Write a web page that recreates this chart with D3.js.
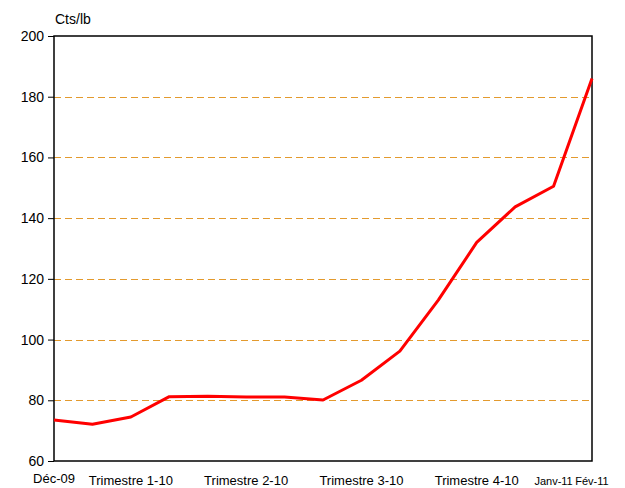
<!DOCTYPE html>
<html>
<head>
<meta charset="utf-8">
<script src="https://cdn.jsdelivr.net/npm/d3@7"></script>
<style>
  body { margin: 0; background: #fff; }
  text { font-family: "Liberation Sans", Arial, sans-serif; fill: #000; }
</style>
</head>
<body>
<script>
// monthly prices, Dec-09 .. Feb-11
var values = [73.5, 72.1, 74.5, 81.2, 81.3, 81.1, 81.1, 80.1, 86.6, 96.2, 113, 132, 143.7, 150.5, 186];
var yTicks = [60, 80, 100, 120, 140, 160, 180, 200];
var gridTicks = [80, 100, 120, 140, 160, 180];
// x labels: index into values, text, small font?
var xLabelIdx = [0, 2, 5, 8, 11, 13, 14];
var xLabelText = ["Déc-09", "Trimestre 1-10", "Trimestre 2-10", "Trimestre 3-10", "Trimestre 4-10", "Janv-11", "Fév-11"];
var xLabelSmall = [false, false, false, false, false, true, true];

var margin = {top: 36, right: 33, bottom: 27, left: 54},
    width = 625 - margin.left - margin.right,
    height = 488 - margin.top - margin.bottom;

var svg = d3.select("body").append("svg")
    .attr("width", 625)
    .attr("height", 488)
  .append("g")
    .attr("transform", "translate(" + margin.left + "," + margin.top + ")");

var x = d3.scaleLinear().domain([0, values.length - 1]).range([0, width]);
var y = d3.scaleLinear().domain([60, 200]).range([height, 0]);

// grid
svg.selectAll(".grid")
    .data(gridTicks)
  .enter().append("line")
    .attr("x1", 0).attr("x2", width)
    .attr("y1", function(d) { return Math.round(y(d)) + 0.5; })
    .attr("y2", function(d) { return Math.round(y(d)) + 0.5; })
    .attr("stroke", "#e39a2e")
    .attr("stroke-width", 1)
    .attr("stroke-dasharray", "7,4");

// y axis
var yAxis = svg.append("g")
    .call(d3.axisLeft(y).tickValues(yTicks).tickSize(6).tickPadding(4));
yAxis.select(".domain").remove();
yAxis.selectAll("line").attr("stroke", "#000");
yAxis.selectAll("text")
    .style("font-size", "14px")
    .style("font-family", "Liberation Sans, Arial, sans-serif");

// frame
svg.append("rect")
    .attr("x", 0).attr("y", 0)
    .attr("width", width).attr("height", height)
    .attr("fill", "none")
    .attr("stroke", "#000")
    .attr("stroke-width", 1.5);

// line
var line = d3.line()
    .x(function(d, i) { return x(i); })
    .y(function(d) { return y(d); });

svg.append("path")
    .datum(values)
    .attr("fill", "none")
    .attr("stroke", "#ff0000")
    .attr("stroke-width", 3)
    .attr("stroke-linejoin", "round")
    .attr("d", line);

// x labels
svg.selectAll(".xlab")
    .data(xLabelIdx)
  .enter().append("text")
    .attr("x", function(d) { return x(d); })
    .attr("y", function(d, i) { return height + (i === 0 ? 22 : 24); })
    .attr("text-anchor", "middle")
    .style("font-size", function(d, i) { return xLabelSmall[i] ? "11px" : "13px"; })
    .text(function(d, i) { return xLabelText[i]; });

// unit
svg.append("text")
    .attr("x", 1)
    .attr("y", -12)
    .style("font-size", "14px")
    .text("Cts/lb");
</script>
</body>
</html>
